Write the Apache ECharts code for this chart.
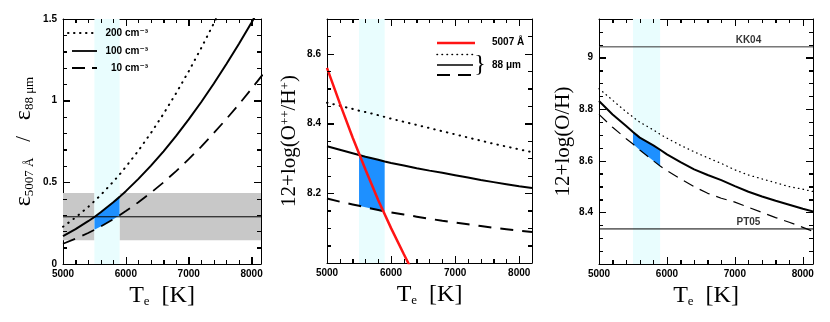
<!DOCTYPE html>
<html>
<head>
<meta charset="utf-8">
<script src="https://cdn.jsdelivr.net/npm/echarts@6/dist/echarts.min.js"></script>
<style>
  html, body { margin: 0; padding: 0; background: #fff; }
  #main { width: 830px; height: 322px; }
</style>
</head>
<body>
<div id="main"></div>
<script>
// temperature grid (K), shared by every curve
const temps = [5000, 5200, 5400, 5500, 5600, 5800, 5900, 6000, 6200, 6400, 6600, 6800, 7000, 7200, 7400, 7600, 7800, 8000, 8200];
const bandT = [5500, 5900];

// left panel: emissivity ratio eps(5007)/eps(88um) for 200, 100, 10 cm-3
const ratio200 = [0.228, 0.285, 0.349, 0.385, 0.422, 0.504, 0.548, 0.595, 0.694, 0.803, 0.920, 1.046, 1.180, 1.323, 1.474, 1.632, 1.799, 1.973, 2.153];
const ratio100 = [0.171, 0.213, 0.262, 0.288, 0.317, 0.378, 0.411, 0.446, 0.521, 0.602, 0.690, 0.784, 0.885, 0.992, 1.105, 1.224, 1.349, 1.479, 1.615];
const ratio10  = [0.124, 0.155, 0.190, 0.209, 0.230, 0.274, 0.298, 0.324, 0.378, 0.437, 0.500, 0.569, 0.642, 0.719, 0.802, 0.888, 0.978, 1.073, 1.171];
const ratioObs = [0.145, 0.289, 0.435]; // low, measured, high

// middle panel: 12+log(O++/H+)
const tempsRed = [5000, 5200, 5400, 5600, 5800, 6000, 6200, 6400];
const op5007 = [8.560, 8.458, 8.360, 8.268, 8.180, 8.100, 8.025, 7.952];
const op200 = [8.460, 8.451, 8.442, 8.437, 8.433, 8.424, 8.419, 8.414, 8.405, 8.396, 8.387, 8.378, 8.369, 8.360, 8.351, 8.342, 8.334, 8.326, 8.318];
const op100 = [8.335, 8.325, 8.315, 8.310, 8.305, 8.296, 8.291, 8.287, 8.280, 8.272, 8.265, 8.259, 8.252, 8.245, 8.238, 8.232, 8.226, 8.220, 8.215];
const op10  = [8.185, 8.176, 8.168, 8.164, 8.160, 8.152, 8.148, 8.145, 8.139, 8.133, 8.127, 8.121, 8.116, 8.111, 8.106, 8.101, 8.097, 8.093, 8.089];

// right panel: 12+log(O/H)
const oh200 = [8.880, 8.835, 8.790, 8.770, 8.750, 8.720, 8.703, 8.688, 8.660, 8.635, 8.612, 8.590, 8.565, 8.545, 8.530, 8.515, 8.500, 8.490, 8.478];
const oh100 = [8.832, 8.780, 8.735, 8.712, 8.690, 8.660, 8.643, 8.625, 8.595, 8.567, 8.545, 8.525, 8.502, 8.480, 8.462, 8.445, 8.430, 8.414, 8.400];
const oh10  = [8.780, 8.730, 8.686, 8.665, 8.642, 8.600, 8.580, 8.562, 8.530, 8.500, 8.474, 8.455, 8.440, 8.420, 8.400, 8.380, 8.362, 8.342, 8.322];
const kk04 = 9.042;
const pt05 = 8.336;

// axis ranges per panel: [xMax, yMin, yMax, yStep, yMinorSplit]
const panels = [
  [8150, 0, 1.5, 0.5, 5],
  [8200, 8.0, 8.7, 0.2, 4],
  [8150, 8.2, 9.15, 0.2, 4]
];

const black = '#000';
const gray = '#c8c8c8';
const cyan = '#e9fdfe';
const blue = '#1e90ff';
const red = '#ff1414';
const serif = 'Liberation Serif';
const tickFont = { color: black, fontFamily: 'Liberation Sans', fontWeight: 'bold', fontSize: 10 };
const fmt = v => String(Math.round(v * 100) / 100);

const xTitle = {
  name: '{n|T}{s|e}{n|  [K]}',
  nameLocation: 'middle', nameGap: 14,
  nameTextStyle: { rich: {
    n: { fontFamily: serif, fontSize: 24, color: black },
    s: { fontFamily: serif, fontSize: 13, color: black, verticalAlign: 'bottom' }
  } }
};

function axisBase(gi) {
  return {
    gridIndex: gi, type: 'value',
    axisLine: { show: true, onZero: false, lineStyle: { color: black, width: 1 } },
    axisTick: { show: true, inside: true, length: 7, lineStyle: { color: black, width: 1 } },
    minorTick: { show: true, length: 4, lineStyle: { color: black, width: 1 } },
    splitLine: { show: false },
    minorSplitLine: { show: false }
  };
}

function xPair(gi) {
  const max = panels[gi][0];
  const b = axisBase(gi);
  b.min = 5000; b.max = max; b.interval = 1000;
  b.minorTick.splitNumber = 5;
  return [
    Object.assign({}, b, xTitle, { position: 'bottom',
      axisLabel: Object.assign({ margin: 5, showMaxLabel: false, formatter: fmt }, tickFont) }),
    Object.assign({}, axisBase(gi), { min: 5000, max: max, interval: 1000, position: 'top',
      minorTick: { show: true, length: 4, splitNumber: 5, lineStyle: { color: black, width: 1 } },
      axisLabel: { show: false } })
  ];
}

function yPair(gi, name, rich, gap, edgeLabels) {
  const [, min, max, interval, minor] = panels[gi];
  const b = axisBase(gi);
  b.min = min; b.max = max; b.interval = interval;
  b.minorTick.splitNumber = minor;
  return [
    Object.assign({}, b, { position: 'left',
      name: name, nameLocation: 'middle', nameRotate: 90, nameGap: gap,
      nameTextStyle: { rich: rich },
      axisLabel: Object.assign({ margin: 6, showMinLabel: edgeLabels, showMaxLabel: edgeLabels, formatter: fmt }, tickFont) }),
    Object.assign({}, axisBase(gi), { min: min, max: max, interval: interval, position: 'right',
      minorTick: { show: true, length: 4, splitNumber: minor, lineStyle: { color: black, width: 1 } },
      axisLabel: { show: false } })
  ];
}

function curve(gi, xs, ys, style, z) {
  return {
    type: 'line', xAxisIndex: 2 * gi, yAxisIndex: 2 * gi, z: z || 4, silent: true,
    data: xs.map((t, i) => [t, ys[i]]),
    symbol: 'none', showSymbol: false,
    lineStyle: Object.assign({ color: black }, style)
  };
}

function bands(gi, areas) {
  return {
    type: 'line', xAxisIndex: 2 * gi, yAxisIndex: 2 * gi, z: 1, silent: true, data: [],
    markArea: { silent: true, data: areas }
  };
}

function cyanBand() {
  return [{ xAxis: bandT[0], itemStyle: { color: cyan } }, { xAxis: bandT[1] }];
}

// blue patch between two curves over the temperature band
function fill(gi, upper, lower) {
  return {
    type: 'custom', xAxisIndex: 2 * gi, yAxisIndex: 2 * gi, z: 3, silent: true,
    data: [[bandT[0], lower[temps.indexOf(bandT[0])]]],
    renderItem: function (params, api) {
      const pts = [];
      temps.forEach((t, i) => { if (t >= bandT[0] && t <= bandT[1]) pts.push(api.coord([t, upper[i]])); });
      for (let i = temps.length - 1; i >= 0; i--) {
        if (temps[i] >= bandT[0] && temps[i] <= bandT[1]) pts.push(api.coord([temps[i], lower[i]]));
      }
      return { type: 'polygon', shape: { points: pts }, style: { fill: blue } };
    }
  };
}

const dotted1 = { width: 2, type: [0.5, 6], cap: 'round' };
const dashed1 = { width: 1.8, type: [13, 8] };
const solid1 = { width: 2 };

const ySerif = { fontFamily: serif, fontSize: 21, color: black };
const ySub = { fontFamily: serif, fontSize: 13, color: black, verticalAlign: 'bottom' };
const ySup = { fontFamily: serif, fontSize: 13, color: black, verticalAlign: 'top' };

const legendFont = 'bold 10px "Liberation Sans", "DejaVu Sans"';
function legendLine(x1, x2, y, style) {
  return { type: 'line', silent: true, z: 10, shape: { x1: x1, y1: y, x2: x2, y2: y },
    style: Object.assign({ stroke: black, lineWidth: 1.8 }, style) };
}
function legendText(x, y, text, align, extra) {
  return { type: 'text', silent: true, z: 10, x: x, y: y,
    style: Object.assign({ text: text, font: legendFont, fill: black, align: align, verticalAlign: 'middle',
      textAlign: align, textVerticalAlign: 'middle' }, extra || {}) };
}

const legendGraphics = [
  // left legend
  legendLine(68, 97, 33, { lineWidth: 2, lineDash: [0.5, 5.5], lineCap: 'round' }),
  legendLine(72, 97, 51, { lineWidth: 1.8 }),
  legendLine(72, 97, 68, { lineWidth: 1.8, lineDash: [13, 7] }),
  legendText(148, 33, '200 cm⁻³', 'right'),
  legendText(148, 51, '100 cm⁻³', 'right'),
  legendText(148, 68, '10 cm⁻³', 'right'),
  // middle legend
  legendLine(437, 475, 43, { stroke: red, lineWidth: 2.5 }),
  legendLine(437, 473, 54.5, { lineWidth: 1.5, lineDash: [0.5, 4.5], lineCap: 'round' }),
  legendLine(437, 473, 65, { lineWidth: 1.5 }),
  legendLine(437, 473, 75, { lineWidth: 1.8, lineDash: [13, 8] }),
  legendText(492, 42, '5007 Å', 'left'),
  legendText(480, 65, '}', 'center', { font: '24px "Liberation Serif"' }),
  legendText(492, 65, '88 μm', 'left')
];

const option = {
  animation: false,
  backgroundColor: '#fff',
  grid: [
    { left: 63, top: 19, width: 198, height: 245 },
    { left: 327, top: 19, width: 205, height: 244 },
    { left: 599, top: 19, width: 214, height: 245 }
  ],
  xAxis: [].concat(xPair(0), xPair(1), xPair(2)),
  yAxis: [].concat(
    yPair(0, '{e|ε}{s|5007 Å}{n|   /   }{e|ε}{s|88 μm}',
      { e: { fontFamily: serif, fontSize: 24, color: black }, n: ySerif, s: ySub }, 27, true),
    yPair(1, '{n|12+log(O}{p|++}{n|/H}{p|+}{n|)}', { n: ySerif, p: ySup }, 27, false),
    yPair(2, '{n|12+log(O/H)}', { n: ySerif }, 25, false)
  ),
  series: [
    // left panel
    bands(0, [
      [{ xAxis: 5000, yAxis: ratioObs[0], itemStyle: { color: gray } }, { xAxis: bandT[0], yAxis: ratioObs[2] }],
      [{ xAxis: bandT[1], yAxis: ratioObs[0], itemStyle: { color: gray } }, { xAxis: panels[0][0], yAxis: ratioObs[2] }],
      cyanBand()
    ]),
    fill(0, ratio100, ratio10),
    curve(0, temps, ratio200, dotted1),
    curve(0, temps, ratio100, solid1),
    curve(0, temps, ratio10, dashed1),
    curve(0, [5000, panels[0][0]], [ratioObs[1], ratioObs[1]], { width: 1 }, 5),

    // middle panel
    bands(1, [cyanBand()]),
    fill(1, op100, op10),
    curve(1, temps, op200, dotted1),
    curve(1, temps, op100, solid1),
    curve(1, temps, op10, { width: 2, type: [13, 9] }),
    curve(1, tempsRed, op5007, { color: red, width: 2.5 }, 5),

    // right panel
    bands(2, [cyanBand()]),
    fill(2, oh100, oh10),
    curve(2, temps, oh200, { width: 1.3, type: [0.5, 4.2], cap: 'round' }),
    curve(2, temps, oh100, solid1),
    curve(2, temps, oh10, { width: 1.2, type: [11, 7] }),
    curve(2, [5000, panels[2][0]], [kk04, kk04], { width: 1, color: '#333' }, 5),
    curve(2, [5000, panels[2][0]], [pt05, pt05], { width: 1 }, 5),
    {
      type: 'scatter', xAxisIndex: 4, yAxisIndex: 4, z: 6, silent: true, symbolSize: 0,
      data: [[7200, kk04, 'KK04'], [7200, pt05, 'PT05']],
      label: Object.assign({ show: true, position: 'top', distance: 2, formatter: p => p.value[2] }, tickFont)
    }
  ],
  graphic: legendGraphics
};

const chart = echarts.init(document.getElementById('main'));
chart.setOption(option);

// inward frame ticks on all four sides, placed through each grid's own axes
function steps(from, to, step) {
  const out = [];
  for (let k = 0; ; k++) {
    const v = Math.round((from + k * step) * 10000) / 10000;
    if (v > to + 1e-9) break;
    out.push(v);
  }
  return out;
}
function tick(x1, y1, x2, y2) {
  return { type: 'line', silent: true, z: 11, shape: { x1: x1, y1: y1, x2: x2, y2: y2 },
    style: { stroke: black, lineWidth: 1 } };
}
const frameTicks = [];
panels.forEach((p, gi) => {
  const [xMax, yMin, yMax, yStep, ySplit] = p;
  const sel = { gridIndex: gi };
  const bottom = chart.convertToPixel(sel, [5000, yMin])[1];
  const top = chart.convertToPixel(sel, [5000, yMax])[1];
  const left = chart.convertToPixel(sel, [5000, yMin])[0];
  const right = chart.convertToPixel(sel, [xMax, yMin])[0];
  steps(5000, xMax, 200).forEach(v => {
    const len = v % 1000 === 0 ? 7 : 4;
    const x = Math.round(chart.convertToPixel(sel, [v, yMin])[0]) + 0.5;
    frameTicks.push(tick(x, bottom, x, bottom - len), tick(x, top, x, top + len));
  });
  steps(yMin, yMax, yStep / ySplit).forEach((v, k) => {
    const len = k % ySplit === 0 ? 7 : 4;
    const y = Math.round(chart.convertToPixel(sel, [5000, v])[1]) + 0.5;
    frameTicks.push(tick(left, y, left + len, y), tick(right, y, right - len, y));
  });
});
chart.setOption({ graphic: legendGraphics.concat(frameTicks) });
</script>
</body>
</html>
